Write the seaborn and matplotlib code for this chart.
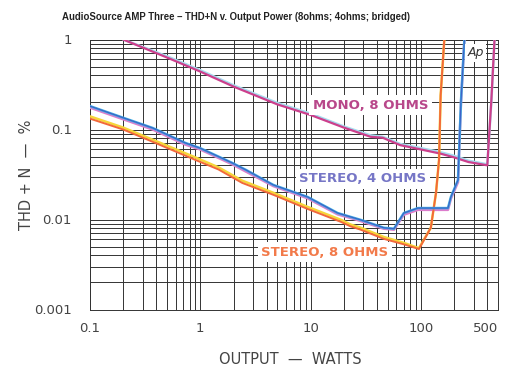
import matplotlib
matplotlib.use("Agg")
import matplotlib.pyplot as plt
import matplotlib.ticker as mticker
import seaborn as sns
import pandas as pd

# ---------------- data ----------------
MONO_P = [0.2, 0.5, 1, 2, 5, 10, 20, 35, 45, 65, 100, 150, 200, 270, 400, 435, 465]
MONO_MAG = [1.0, 0.63, 0.44, 0.30, 0.19, 0.145, 0.105, 0.083, 0.081, 0.067, 0.060, 0.054, 0.049, 0.0435, 0.040, 0.21, 1.0]
MONO_CYN = [1.0, 0.65, 0.455, 0.31, 0.197, 0.15, 0.108, 0.086, 0.083, 0.069, 0.062, 0.056, 0.051, 0.045, 0.041, 0.20, 1.0]

S4_P = [0.1, 0.2, 0.37, 0.73, 1, 1.95, 2.6, 4.6, 9.4, 17.6, 23, 28.5, 46, 57, 70, 94, 176, 187, 217, 231, 248]
S4_BLUE = [0.182, 0.135, 0.104, 0.071, 0.062, 0.0425, 0.0355, 0.0242, 0.0178, 0.0118, 0.0107, 0.0099,
           0.0081, 0.0079, 0.0118, 0.0134, 0.0134, 0.0178, 0.0275, 0.21, 1.0]
S4_PINK = [0.175, 0.130, 0.100, 0.068, 0.060, 0.041, 0.034, 0.0235, 0.0172, 0.0114, 0.0104, 0.0096,
           0.0079, 0.0077, 0.0113, 0.0128, 0.0128, 0.0170, 0.026, 0.20, 1.0]

S8_P = [0.1, 0.2, 0.37, 0.9, 1.46, 2.4, 4.6, 9.4, 18.9, 23, 28.5, 46, 70, 96, 123, 137, 146, 151, 163]
S8_YEL = [0.140, 0.105, 0.077, 0.049, 0.038, 0.027, 0.0198, 0.0138, 0.0099, 0.0088, 0.0081, 0.0064,
          0.0055, 0.0048, 0.0081, 0.0197, 0.046, 0.24, 1.0]
S8_ORG = [0.132, 0.100, 0.073, 0.046, 0.036, 0.0255, 0.0188, 0.0131, 0.0094, 0.0084, 0.0077, 0.0061,
          0.0053, 0.0047, 0.0081, 0.0197, 0.046, 0.24, 1.0]

X_TICKS = [0.1, 1, 10, 100, 500]
X_TICK_LABELS = ["0.1", "1", "10", "100", "500"]
Y_TICKS = [0.001, 0.01, 0.1, 1]
Y_TICK_LABELS = ["0.001", "0.01", "0.1", "1"]

TITLE = "AudioSource AMP Three \u2013 THD+N v. Output Power (8ohms; 4ohms; bridged)"
XLABEL = "OUTPUT  \u2014  WATTS"
YLABEL = "THD + N  \u2014  %"

# ---------------- figure ----------------
sns.set_theme(style="white")
plt.rcParams["font.family"] = ["DejaVu Sans"]

fig = plt.figure(figsize=(5.06, 3.67), dpi=100)
ax = fig.add_axes([90 / 506, 1 - 309.5 / 367, 408 / 506, 270 / 367])
ax.set_xscale("log")
ax.set_yscale("log")

def draw(xs, ys, color, lw, z):
    df = pd.DataFrame({"P": xs, "THD": ys})
    sns.lineplot(data=df, x="P", y="THD", ax=ax, color=color, lw=lw,
                 estimator=None, sort=False, zorder=z, solid_joinstyle="round")

draw(MONO_P, MONO_CYN, "#a6dcef", 1.8, 3)
draw(MONO_P, MONO_MAG, "#cc3f8c", 1.6, 4)

draw(S8_P, S8_YEL, "#f6d63a", 1.8, 3)
draw(S8_P, S8_ORG, "#f2683a", 1.4, 4)

draw(S4_P, S4_PINK, "#dc7ccc", 1.8, 3)
draw(S4_P, S4_BLUE, "#42b6e4", 1.8, 4)
draw(S4_P, S4_BLUE, "#3d62c8", 0.9, 5)

ax.set_xlim(0.1, 500)
ax.set_ylim(0.001, 1)

ax.xaxis.set_major_locator(mticker.FixedLocator(X_TICKS))
ax.xaxis.set_major_formatter(mticker.FixedFormatter(X_TICK_LABELS))
ax.xaxis.set_minor_locator(mticker.LogLocator(base=10, subs=range(2, 10), numticks=20))
ax.xaxis.set_minor_formatter(mticker.NullFormatter())
ax.yaxis.set_major_locator(mticker.FixedLocator(Y_TICKS))
ax.yaxis.set_major_formatter(mticker.FixedFormatter(Y_TICK_LABELS))
ax.yaxis.set_minor_locator(mticker.LogLocator(base=10, subs=range(2, 10), numticks=20))
ax.yaxis.set_minor_formatter(mticker.NullFormatter())

ax.grid(True, which="both", color="#333333", lw=0.7)
ax.set_axisbelow(True)
ax.tick_params(which="both", length=0)
ax.tick_params(axis="x", pad=9, labelsize=9.5, labelcolor="#444444")
ax.tick_params(axis="y", pad=13, labelsize=9.5, labelcolor="#444444")
for s in ax.spines.values():
    s.set_color("#333333")
    s.set_linewidth(0.7)

xt = ax.get_xticklabels()
xt[-1].set_ha("right")
xt[-1].set_x(0)

ax.set_xlabel(XLABEL, fontsize=10.5, color="#444444")
ax.set_ylabel(YLABEL, fontsize=10.5, color="#444444")
ax.xaxis.label.set_va("center")
ax.yaxis.label.set_va("center")
ax.xaxis.set_label_coords(0.49, -0.187)
ax.yaxis.set_label_coords(-0.155, 0.5)

fig.text(62 / 506, 1 - 17 / 367, TITLE, fontsize=6.9, fontweight="bold",
         family=["Liberation Sans", "DejaVu Sans"],
         color="#222222", ha="left", va="center")

box = dict(facecolor="white", edgecolor="none", pad=2.5)
ax.text(35, 0.187, "MONO, 8 OHMS", color="#b8478a", fontsize=9.5, fontweight="bold",
        ha="center", va="center", bbox=box, zorder=6)
ax.text(29.7, 0.0282, "STEREO, 4 OHMS", color="#7676c6", fontsize=9.5, fontweight="bold",
        ha="center", va="center", bbox=box, zorder=6)
ax.text(13.4, 0.00435, "STEREO, 8 OHMS", color="#f27a4a", fontsize=9.5, fontweight="bold",
        ha="center", va="center", bbox=box, zorder=6)
ax.text(0.945, 0.975, "Ap", transform=ax.transAxes, color="#333333", fontsize=9,
        fontstyle="italic", ha="center", va="top",
        bbox=dict(facecolor="white", edgecolor="none", pad=2.0), zorder=6)

fig.savefig("out.png", dpi=100, facecolor="white")
